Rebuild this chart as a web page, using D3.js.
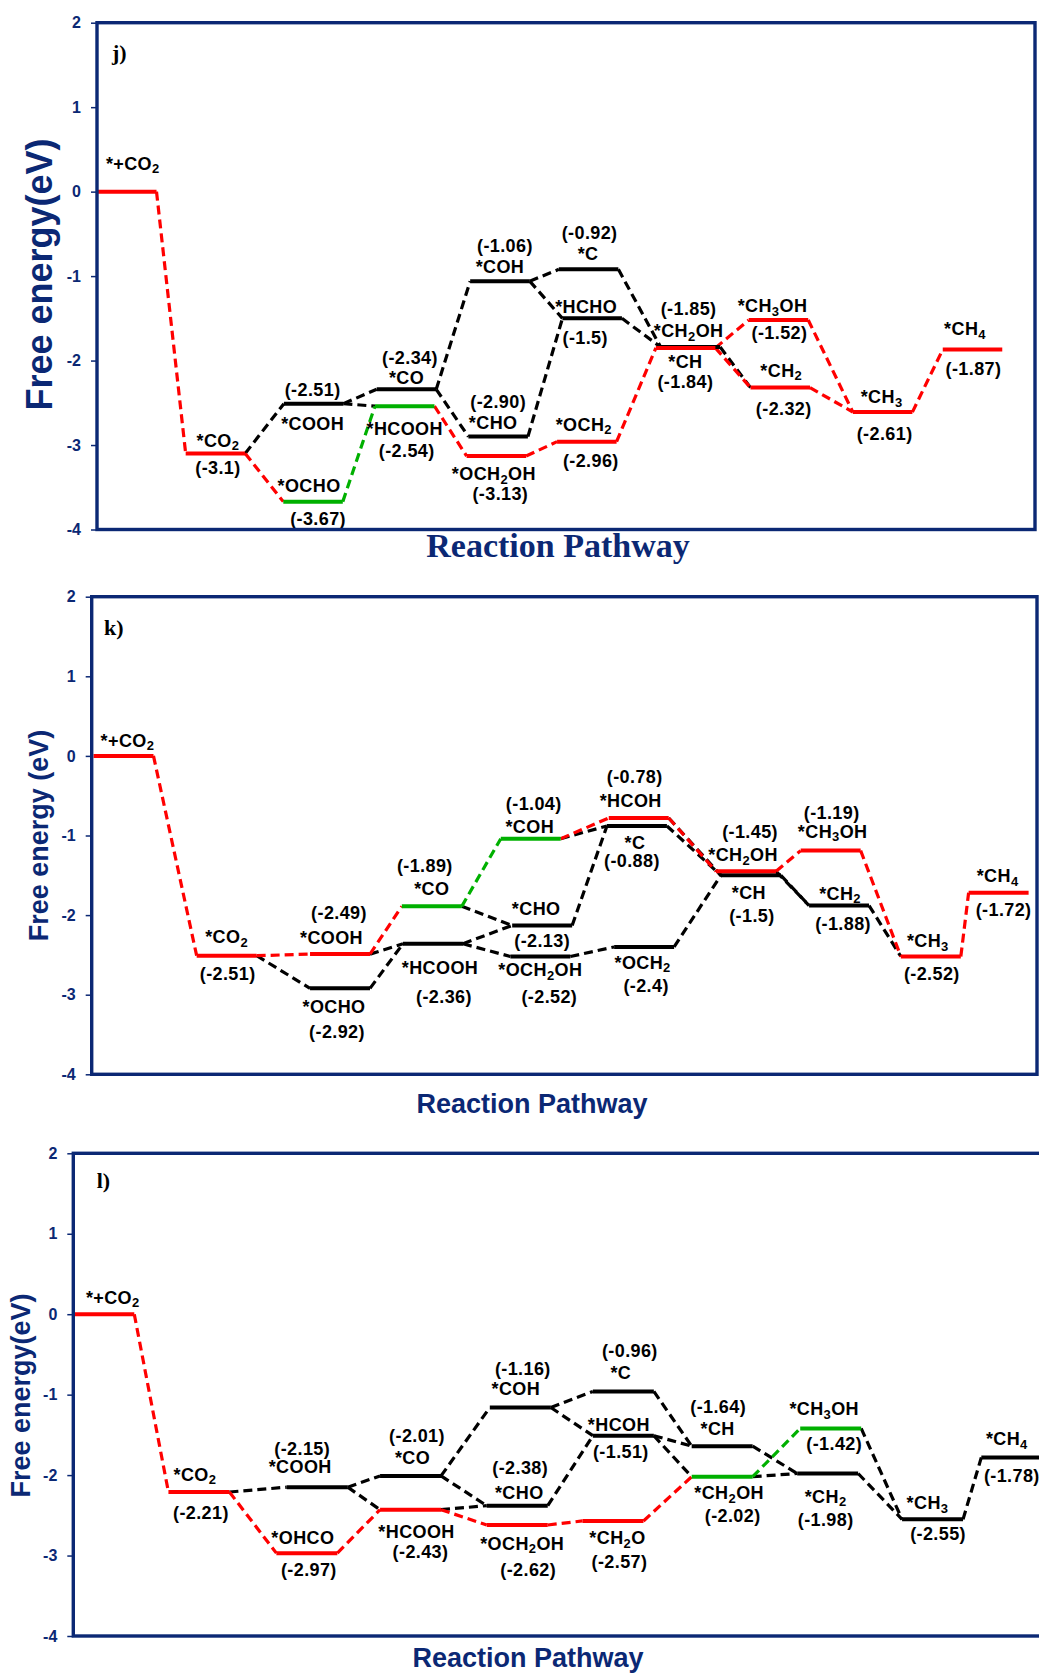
<!DOCTYPE html>
<html>
<head>
<meta charset="utf-8">
<script src="https://cdn.jsdelivr.net/npm/d3@7"></script>
<style>
  body { margin: 0; background: #fff; }
  svg { display: block; }
</style>
</head>
<body>
<svg id="chart" width="1039" height="1680"></svg>
<script>
// ---------------- shared axis values ----------------
const yTicks = [-4, -3, -2, -1, 0, 1, 2];

// ---------------- panel j ----------------
const jStates = ["*+CO2", "*CO2", "*COOH", "*OCHO", "*CO", "*HCOOH", "*CHO", "*OCH2OH", "*COH",
                 "*C", "*HCHO", "*OCH2", "*CH2OH", "*CH", "*CH3OH", "*CH2", "*CH3", "*CH4"];
const jEnergy = ["0", "-3.1", "-2.51", "-3.67", "-2.34", "-2.54", "-2.90", "-3.13", "-1.06",
                 "-0.92", "-1.5", "-2.96", "-1.85", "-1.84", "-1.52", "-2.32", "-2.61", "-1.87"];
// reaction coordinate where each level begins (each level is one unit long)
const jCoord = [0, 1.49, 3.14, 3.13, 4.70, 4.67, 6.24, 6.21, 6.27,
                7.76, 7.82, 7.73, 9.39, 9.47, 10.95, 10.98, 12.70, 14.21];
const jGroup = ["main", "main", "alt", "limiting", "alt", "limiting", "alt", "main", "alt",
                "alt", "alt", "main", "main", "alt", "main", "main", "main", "main"];
const jSteps = [
  ["*+CO2", "*CO2", "main"], ["*CO2", "*COOH", "alt"], ["*CO2", "*OCHO", "main"],
  ["*COOH", "*CO", "alt"], ["*COOH", "*HCOOH", "alt"], ["*OCHO", "*HCOOH", "limiting"],
  ["*CO", "*COH", "alt"], ["*CO", "*CHO", "alt"], ["*HCOOH", "*OCH2OH", "main"],
  ["*COH", "*C", "alt"], ["*COH", "*HCHO", "alt"], ["*CHO", "*HCHO", "alt"],
  ["*OCH2OH", "*OCH2", "main"], ["*C", "*CH", "alt"], ["*HCHO", "*CH", "alt"],
  ["*OCH2", "*CH2OH", "main"], ["*CH2OH", "*CH3OH", "main"], ["*CH2OH", "*CH2", "main"],
  ["*CH", "*CH2", "alt"], ["*CH3OH", "*CH3", "main"], ["*CH2", "*CH3", "main"],
  ["*CH3", "*CH4", "main"]
];

// ---------------- panel k ----------------
const kStates = ["*+CO2", "*CO2", "*COOH", "*OCHO", "*CO", "*HCOOH", "*COH", "*CHO", "*OCH2OH",
                 "*HCOH", "*C", "*OCH2", "*CH2OH", "*CH", "*CH3OH", "*CH2", "*CH3", "*CH4"];
const kEnergy = ["0", "-2.51", "-2.49", "-2.92", "-1.89", "-2.36", "-1.04", "-2.13", "-2.52",
                 "-0.78", "-0.88", "-2.4", "-1.45", "-1.5", "-1.19", "-1.88", "-2.52", "-1.72"];
const kCoord = [0.03, 1.75, 3.64, 3.64, 5.17, 5.19, 6.82, 7.01, 6.98,
                8.62, 8.59, 8.71, 10.41, 10.49, 11.82, 11.96, 13.49, 14.62];
const kGroup = ["main", "main", "main", "alt", "limiting", "alt", "limiting", "alt", "alt",
                "main", "alt", "alt", "main", "alt", "main", "alt", "main", "main"];
const kSteps = [
  ["*+CO2", "*CO2", "main"], ["*CO2", "*COOH", "main"], ["*CO2", "*OCHO", "alt"],
  ["*COOH", "*CO", "main"], ["*COOH", "*HCOOH", "alt"], ["*OCHO", "*HCOOH", "alt"],
  ["*CO", "*COH", "limiting"], ["*CO", "*CHO", "alt"], ["*HCOOH", "*CHO", "alt"],
  ["*HCOOH", "*OCH2OH", "alt"], ["*COH", "*HCOH", "main"], ["*COH", "*C", "alt"],
  ["*CHO", "*C", "alt"], ["*OCH2OH", "*OCH2", "alt"], ["*HCOH", "*CH", "alt"],
  ["*C", "*CH", "alt"], ["*HCOH", "*CH2OH", "main"], ["*OCH2", "*CH", "alt"],
  ["*CH2OH", "*CH3OH", "main"], ["*CH2OH", "*CH2", "alt"], ["*CH", "*CH2", "alt"],
  ["*CH3OH", "*CH3", "main"], ["*CH2", "*CH3", "alt"], ["*CH3", "*CH4", "main"]
];

// ---------------- panel l ----------------
const lStates = ["*+CO2", "*CO2", "*COOH", "*OHCO", "*CO", "*HCOOH", "*CHO", "*OCH2OH", "*COH",
                 "*C", "*HCOH", "*CH2O", "*CH", "*CH2OH", "*CH3OH", "*CH2", "*CH3", "*CH4"];
const lEnergy = ["0", "-2.21", "-2.15", "-2.97", "-2.01", "-2.43", "-2.38", "-2.62", "-1.16",
                 "-0.96", "-1.51", "-2.57", "-1.64", "-2.02", "-1.42", "-1.98", "-2.55", "-1.78"];
const lCoord = [0, 1.56, 3.50, 3.33, 5.03, 5.03, 6.78, 6.78, 6.83,
                8.52, 8.52, 8.35, 10.14, 10.14, 11.92, 11.87, 13.59, 14.89];
const lGroup = ["main", "main", "alt", "main", "alt", "main", "alt", "main", "alt",
                "alt", "alt", "main", "alt", "limiting", "limiting", "alt", "alt", "alt"];
const lSteps = [
  ["*+CO2", "*CO2", "main"], ["*CO2", "*COOH", "alt"], ["*CO2", "*OHCO", "main"],
  ["*COOH", "*CO", "alt"], ["*COOH", "*HCOOH", "alt"], ["*OHCO", "*HCOOH", "main"],
  ["*CO", "*COH", "alt"], ["*CO", "*CHO", "alt"], ["*HCOOH", "*CHO", "alt"],
  ["*HCOOH", "*OCH2OH", "main"], ["*COH", "*C", "alt"], ["*COH", "*HCOH", "alt"],
  ["*CHO", "*HCOH", "alt"], ["*OCH2OH", "*CH2O", "main"], ["*C", "*CH", "alt"],
  ["*HCOH", "*CH", "alt"], ["*HCOH", "*CH2OH", "alt"], ["*CH2O", "*CH2OH", "main"],
  ["*CH", "*CH2", "alt"], ["*CH2OH", "*CH3OH", "limiting"], ["*CH2OH", "*CH2", "alt"],
  ["*CH3OH", "*CH3", "alt"], ["*CH2", "*CH3", "alt"], ["*CH3", "*CH4", "alt"]
];

// ---------------- styling & layout ----------------
const groupColor = { main: "#ff0000", alt: "#000000", limiting: "#00b000" };
const groupOrder = ["alt", "limiting", "main"];
const navy = "#0b2874";
const sans = "'Liberation Sans', Arial, Helvetica, sans-serif";
const serif = "'Liberation Serif', 'Times New Roman', serif";

// label offsets in px from each level: n = species name, v = energy value
const jLabels = {
  "*+CO2": { n: [6, -21.7] },
  "*CO2": { n: [2.5, -6.7], v: [2.5, 20.7] },
  "*COOH": { v: [-1, -7.3], n: [-1, 26.7] },
  "*OCHO": { n: [-4, -9.3], v: [5, 23.3] },
  "*CO": { v: [3.5, -25.7], n: [0, -5] },
  "*HCOOH": { n: [0, 28.7], v: [2, 51] },
  "*CHO": { v: [0, -29], n: [-5, -7.7] },
  "*OCH2OH": { n: [-2.5, 24], v: [4, 44] },
  "*COH": { v: [5, -29.5], n: [0, -7.8] },
  "*C": { v: [1, -30.6], n: [-0.5, -9.3] },
  "*HCHO": { n: [-6, -5.6], v: [-7, 25.7] },
  "*OCH2": { n: [-3, -11], v: [4, 25] },
  "*CH2OH": { v: [3, -32.7], n: [3, -10.7] },
  "*CH": { n: [-5, 21], v: [-5, 40.5] },
  "*CH3OH": { n: [-6, -7.7], v: [1, 19] },
  "*CH2": { n: [1, -10.6], v: [3.5, 27.7] },
  "*CH3": { n: [-1, -9], v: [2, 27.7] },
  "*CH4": { n: [-7.5, -14.3], v: [1, 25.7] }
};
const kLabels = {
  "*+CO2": { n: [4, -9.3] },
  "*CO2": { n: [0, -12.6], v: [1, 24.4] },
  "*COOH": { v: [-1, -35.6], n: [-8.5, -10] },
  "*OCHO": { n: [-6, 25], v: [-3, 50] },
  "*CO": { v: [-7, -34], n: [0, -11.7] },
  "*HCOOH": { n: [7, 30], v: [11, 59] },
  "*COH": { v: [3, -29], n: [-1, -5.6] },
  "*CHO": { n: [-6, -10], v: [0, 21.3] },
  "*OCH2OH": { n: [0, 20], v: [9, 46.6] },
  "*HCOH": { v: [-4, -35], n: [-8, -10.7] },
  "*C": { n: [-2, 22.7], v: [-5, 40.7] },
  "*OCH2": { n: [-1.5, 21.7], v: [2, 45] },
  "*CH2OH": { v: [4, -33.4], n: [-3, -10] },
  "*CH": { n: [-2, 24], v: [1, 47] },
  "*CH3OH": { v: [1, -31.7], n: [2, -12.7] },
  "*CH2": { n: [1, -6], v: [4, 24] },
  "*CH3": { n: [-3, -9.4], v: [1, 24] },
  "*CH4": { n: [-1, -10.6], v: [5, 22.7] }
};
const lLabels = {
  "*+CO2": { n: [9, -10.7] },
  "*CO2": { n: [-4, -11], v: [2, 26.7] },
  "*COOH": { v: [-15, -32.4], n: [-17, -14] },
  "*OHCO": { n: [-4, -9], v: [2, 23.3] },
  "*CO": { v: [6.5, -34], n: [2, -12.3] },
  "*HCOOH": { n: [6, 28], v: [10, 48] },
  "*CHO": { v: [3, -31.6], n: [2, -7] },
  "*OCH2OH": { n: [5, 24.7], v: [11, 50.7] },
  "*COH": { v: [2.5, -32.5], n: [-4.5, -12.8] },
  "*C": { v: [6.5, -34.4], n: [-2.5, -12.4] },
  "*HCOH": { n: [-4.5, -5], v: [-2.5, 22.6] },
  "*CH2O": { n: [4.5, 23.4], v: [6.5, 47.4] },
  "*CH": { v: [-4, -32.7], n: [-4.5, -11] },
  "*CH2OH": { n: [7, 22.7], v: [10.5, 45] },
  "*CH3OH": { n: [-6.5, -13.3], v: [3.5, 21.7] },
  "*CH2": { n: [-2, 29.4], v: [-2, 52.7] },
  "*CH3": { n: [-5, -10], v: [5.5, 21] },
  "*CH4": { n: [-5, -12.4], v: [0, 24.3] }
};

const panels = [
  {
    states: jStates, energy: jEnergy, coord: jCoord, group: jGroup, steps: jSteps, labels: jLabels,
    left: 97, right: 1035, top: 22.7, bottom: 529.5, xMax: 15.76,
    tag: { text: "j)", x: 112, y: 60 },
    yTitle: { text: "Free energy(eV)", x: 52, y: 274.5, size: 36 },
    xTitle: { text: "Reaction Pathway", x: 558, y: 557, size: 34, font: serif }
  },
  {
    states: kStates, energy: kEnergy, coord: kCoord, group: kGroup, steps: kSteps, labels: kLabels,
    left: 91.7, right: 1037, top: 596.7, bottom: 1074.3, xMax: 15.76,
    tag: { text: "k)", x: 104, y: 635 },
    yTitle: { text: "Free energy (eV)", x: 48, y: 835.5, size: 27 },
    xTitle: { text: "Reaction Pathway", x: 532, y: 1113, size: 27, font: sans }
  },
  {
    states: lStates, energy: lEnergy, coord: lCoord, group: lGroup, steps: lSteps, labels: lLabels,
    left: 73.3, right: 1060, top: 1153.3, bottom: 1636, xMax: 16.18,
    tag: { text: "l)", x: 96.7, y: 1188 },
    yTitle: { text: "Free energy(eV)", x: 30, y: 1395.5, size: 27 },
    xTitle: { text: "Reaction Pathway", x: 528, y: 1667, size: 27, font: sans }
  }
];

const svg = d3.select("#chart");

// species names: digits are written as subscripts
function chemText(sel, str) {
  const parts = str.match(/\d+|\D+/g);
  let inSub = false;
  parts.forEach(p => {
    const isSub = /^\d+$/.test(p);
    const t = sel.append("tspan").text(p);
    if (isSub) {
      t.attr("font-size", 13).attr("dy", inSub ? 0 : 3.5);
      inSub = true;
    } else {
      t.attr("dy", inSub ? -3.5 : 0);
      inSub = false;
    }
  });
}

function drawPanel(p) {
  const g = svg.append("g");
  const x = d3.scaleLinear().domain([0, p.xMax]).range([p.left, p.right]);
  const y = d3.scaleLinear().domain([-4, 2]).range([p.bottom, p.top]);

  const levels = p.states.map((name, i) => ({
    name, text: p.energy[i], e: +p.energy[i], c: p.coord[i], group: p.group[i]
  }));
  const byName = new Map(levels.map(d => [d.name, d]));

  // y axis ticks and numbers
  const axis = d3.axisLeft(y).tickValues(yTicks).tickSize(6).tickPadding(10)
    .tickFormat(d => String(d));
  const ax = g.append("g").attr("transform", `translate(${p.left},0)`).call(axis);
  ax.select(".domain").remove();
  ax.selectAll(".tick line").attr("stroke", navy).attr("stroke-width", 1.5);
  ax.selectAll(".tick text")
    .attr("fill", navy).attr("font-family", sans).attr("font-weight", "bold")
    .attr("font-size", 16);

  // dashed connectors between consecutive intermediates
  const steps = p.steps.map(([a, b, grp]) => ({ a: byName.get(a), b: byName.get(b), grp }))
    .sort((s, t) => groupOrder.indexOf(s.grp) - groupOrder.indexOf(t.grp));
  g.append("g").selectAll("line").data(steps).join("line")
    .attr("x1", d => x(d.a.c + 1)).attr("y1", d => y(d.a.e))
    .attr("x2", d => x(d.b.c)).attr("y2", d => y(d.b.e))
    .attr("stroke", d => groupColor[d.grp])
    .attr("stroke-width", 3.2)
    .attr("stroke-dasharray", "9,5");

  // energy levels
  const ordered = levels.slice().sort((s, t) => groupOrder.indexOf(s.group) - groupOrder.indexOf(t.group));
  g.append("g").selectAll("line").data(ordered).join("line")
    .attr("x1", d => x(d.c)).attr("x2", d => x(d.c + 1))
    .attr("y1", d => y(d.e)).attr("y2", d => y(d.e))
    .attr("stroke", d => groupColor[d.group])
    .attr("stroke-width", 4);

  // labels
  const lab = g.append("g").attr("font-family", sans).attr("font-weight", "bold")
    .attr("font-size", 18).attr("fill", "#000").attr("text-anchor", "middle")
    .attr("letter-spacing", 0.4);
  levels.forEach(d => {
    const off = p.labels[d.name];
    if (!off) return;
    const cx = (x(d.c) + x(d.c + 1)) / 2;
    const cy = y(d.e);
    if (off.n) {
      const t = lab.append("text").attr("x", cx + off.n[0]).attr("y", cy + off.n[1]);
      chemText(t, d.name);
    }
    if (off.v) {
      lab.append("text").attr("x", cx + off.v[0]).attr("y", cy + off.v[1])
        .text(`(${d.text})`);
    }
  });

  // plot frame
  g.append("rect")
    .attr("x", p.left).attr("y", p.top)
    .attr("width", p.right - p.left).attr("height", p.bottom - p.top)
    .attr("fill", "none").attr("stroke", navy).attr("stroke-width", 3.4);

  // panel tag
  g.append("text").attr("x", p.tag.x).attr("y", p.tag.y)
    .attr("font-family", serif).attr("font-weight", "bold").attr("font-size", 22)
    .attr("fill", "#000").text(p.tag.text);

  // axis titles
  g.append("text")
    .attr("transform", `translate(${p.yTitle.x},${p.yTitle.y}) rotate(-90)`)
    .attr("text-anchor", "middle")
    .attr("font-family", sans).attr("font-weight", "bold").attr("font-size", p.yTitle.size)
    .attr("fill", navy).text(p.yTitle.text);
  g.append("text")
    .attr("x", p.xTitle.x).attr("y", p.xTitle.y).attr("text-anchor", "middle")
    .attr("font-family", p.xTitle.font).attr("font-weight", "bold")
    .attr("font-size", p.xTitle.size)
    .attr("fill", navy).text(p.xTitle.text);
}

panels.forEach(drawPanel);
</script>
</body>
</html>
